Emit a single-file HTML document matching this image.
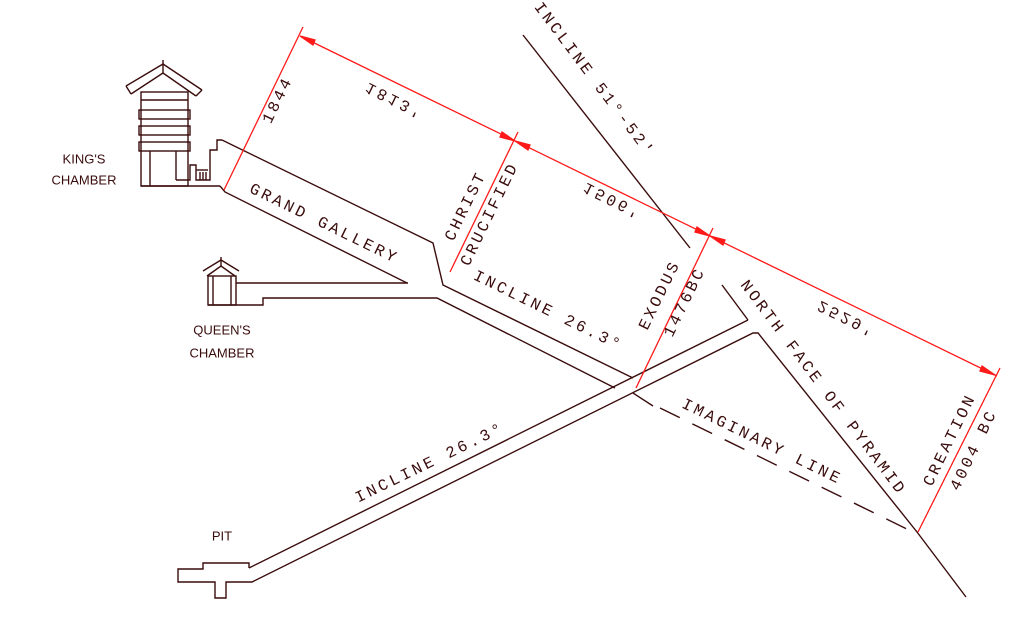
<!DOCTYPE html>
<html><head><meta charset="utf-8"><style>
html,body{margin:0;padding:0;background:#fff;width:1024px;height:626px;overflow:hidden}
svg text{font-family:"Liberation Mono",monospace;font-size:16px;fill:#3a0c0c;text-anchor:middle;dominant-baseline:middle;letter-spacing:3px}
.s{font-family:"Liberation Sans",sans-serif;font-size:13px;letter-spacing:0}
</style></head><body>
<svg width="1024" height="626" viewBox="0 0 1024 626" xmlns="http://www.w3.org/2000/svg">
<g stroke="#3a0c0c" stroke-width="1.4" fill="none">
<polyline points="126,86 163,64 202,90"/>
<polyline points="131,94 163,73 196,96"/>
<line x1="126" y1="86" x2="131" y2="94"/><line x1="202" y1="90" x2="196" y2="96"/>
<line x1="163" y1="60" x2="163" y2="73"/>
<rect x="141" y="92" width="47" height="94"/>
<line x1="141" y1="100" x2="188" y2="100"/>
<rect x="139" y="110" width="51" height="9"/>
<rect x="139" y="126" width="51" height="9"/>
<rect x="139" y="142" width="51" height="9"/>
<line x1="150" y1="151" x2="150" y2="186"/>
<line x1="176" y1="151" x2="176" y2="180"/>
<polyline points="176,180 190,180 190,165 196,165 196,180 210,180 210,150 217,150 217,140 222,140"/>
<line x1="200" y1="172" x2="200" y2="180"/><line x1="203" y1="172" x2="203" y2="180"/><line x1="206" y1="172" x2="206" y2="180"/>
<line x1="196" y1="170" x2="208" y2="170"/>
<line x1="141" y1="186" x2="220" y2="186"/>
<polyline points="222,140 433,243 443,285 633,378"/>
<polyline points="220,186 225,192 407,283"/>
<polyline points="203,271 221,260 239,271"/>
<polyline points="207,276 221,266 235,276"/>
<line x1="221" y1="257" x2="221" y2="266"/>
<rect x="208" y="276" width="28" height="29"/>
<line x1="213" y1="276" x2="213" y2="305"/>
<line x1="231" y1="276" x2="231" y2="305"/>
<line x1="236" y1="283" x2="408" y2="283"/>
<polyline points="208,305 263,305 263,298 437,298 615,388"/>
<line x1="633" y1="393" x2="653" y2="406"/>
<polyline points="249,568 249,563 203,563 203,569 178,569 178,582 215,582 215,598 226,598 226,582 252,582 753,333 758,333 917,532 966,597"/>
<line x1="249" y1="568" x2="748" y2="320"/>
<line x1="748" y1="320" x2="722" y2="285"/>
<line x1="523" y1="35" x2="690" y2="248"/>
<line x1="660" y1="408" x2="913" y2="532" stroke-dasharray="22,14"/>
</g>
<g stroke="#ff1a1a" stroke-width="1.3" fill="#ff1a1a">
<line x1="300" y1="36" x2="997" y2="376"/>
<line x1="303" y1="27" x2="224" y2="190"/>
<line x1="518" y1="132" x2="450" y2="272"/>
<line x1="713" y1="228" x2="636" y2="388"/>
<line x1="1000" y1="368" x2="918" y2="532"/>
<polygon points="300,36 315,40 313,45"/>
<polygon points="515,141 500,137 502,132"/>
<polygon points="515,141 530,145 528,150"/>
<polygon points="710,236 695,232 697,227"/>
<polygon points="710,236 725,240 723,245"/>
<polygon points="995,375 980,371 982,366"/>
</g>
<text transform="translate(278,100) rotate(-64)">1844</text>
<text transform="translate(395,100) rotate(26) scale(1,-1)">1813'</text>
<text transform="translate(613,200) rotate(26) scale(1,-1)">1506'</text>
<text transform="translate(847,318) rotate(26) scale(1,-1)">2529'</text>
<text transform="translate(594,80) rotate(53)">INCLINE 51°-52'</text>
<text transform="translate(324,224) rotate(26)">GRAND GALLERY</text>
<text transform="translate(466,206) rotate(-64)">CHRIST</text>
<text transform="translate(490,214) rotate(-64)">CRUCIFIED</text>
<text transform="translate(548,311) rotate(26)">INCLINE 26.3°</text>
<text transform="translate(660,295) rotate(-64)">EXODUS</text>
<text transform="translate(685,302) rotate(-64)">1476BC</text>
<text transform="translate(823,388) rotate(53)">NORTH FACE OF PYRAMID</text>
<text transform="translate(762,442) rotate(26)">IMAGINARY LINE</text>
<text transform="translate(430,463) rotate(-26)">INCLINE 26.3°</text>
<text transform="translate(950,440) rotate(-64)">CREATION</text>
<text transform="translate(974,450) rotate(-64)">4004 BC</text>
<text class="s" x="84" y="160">KING'S</text>
<text class="s" x="84" y="181">CHAMBER</text>
<text class="s" x="222" y="331">QUEEN'S</text>
<text class="s" x="222" y="354">CHAMBER</text>
<text class="s" x="222" y="537">PIT</text>
</svg>
</body></html>
